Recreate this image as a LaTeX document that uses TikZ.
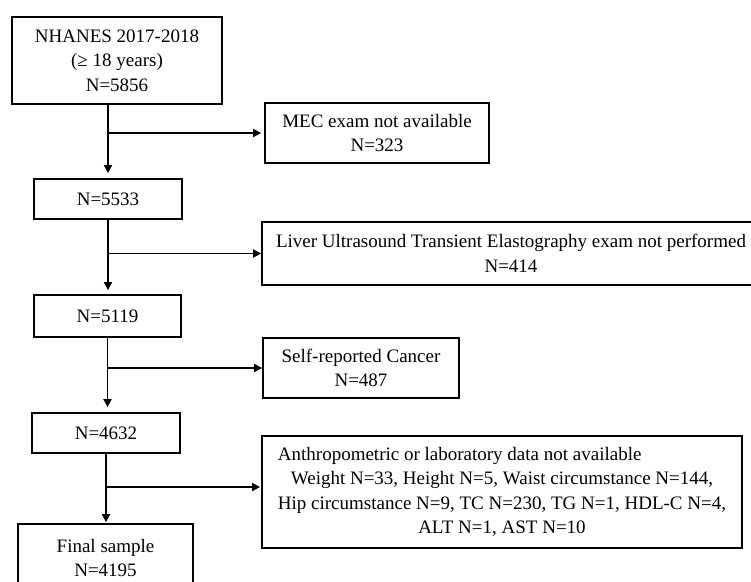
\documentclass[tikz,border=0pt]{standalone}
\usepackage{fontspec}
\setmainfont{Liberation Serif}
\usetikzlibrary{arrows.meta}
\newlength\hipw
\begin{document}
\fontsize{19pt}{24.5pt}\selectfont
\settowidth\hipw{Hip circumstance N=9, TC N=230, TG N=1, HDL-C N=4,}
\begin{tikzpicture}[x=1pt,y=-1pt,
  box/.style={draw,line width=1.8pt,inner sep=0pt,align=center,
    font=\fontsize{19pt}{24.5pt}\selectfont},
  arr/.style={line width=1.8pt,-{Triangle[length=8pt,width=8pt]}}]
\useasboundingbox (0,0) rectangle (751,581);
\node[box,minimum width=210pt,minimum height=87pt] (n1) at (117,60.5) {NHANES 2017-2018\\(≥ 18 years)\\N=5856};
\node[box,minimum width=224pt,minimum height=60pt] (mec) at (377,133) {MEC exam not available\\N=323};
\node[box,minimum width=148pt,minimum height=40pt] (n2) at (108,199) {N=5533};
\node[box,minimum width=498pt,minimum height=63pt] (liver) at (511,253.5) {Liver Ultrasound Transient Elastography exam not performed\\N=414};
\node[box,minimum width=147pt,minimum height=42pt] (n3) at (107.5,316) {N=5119};
\node[box,minimum width=196pt,minimum height=60pt] (self) at (361,368) {Self-reported Cancer\\N=487};
\node[box,minimum width=148pt,minimum height=40pt] (n4) at (106,433) {N=4632};
\node[box,minimum width=480pt,minimum height=112pt] (anth) at (502,492) {\makebox[\hipw][l]{Anthropometric or laboratory data not available}\\Weight N=33, Height N=5, Waist circumstance N=144,\\Hip circumstance N=9, TC N=230, TG N=1, HDL-C N=4,\\ALT N=1, AST N=10};
\node[box,minimum width=175pt,minimum height=68pt] (fin) at (105.5,558) {Final sample\\N=4195};
\coordinate (anthin) at ([yshift=5pt]anth.west);
\draw[arr,shorten >=5pt] (n1.south -| n2.north) -- (n2.north);
\draw[arr,shorten >=3pt] (n2.north |- mec.west) -- (mec.west);
\draw[arr,shorten >=4pt] (n2.south) -- (n2.south |- n3.north);
\draw[arr] (n2.south |- liver.west) -- (liver.west);
\draw[arr,shorten >=5pt] (n3.south) -- (n3.south |- n4.north);
\draw[arr] (n3.south |- self.west) -- (self.west);
\draw[arr,shorten >=1pt] (n4.south) -- (n4.south |- fin.north);
\draw[arr,shorten >=1pt] (n4.south |- anthin) -- (anthin);
\end{tikzpicture}
\end{document}
